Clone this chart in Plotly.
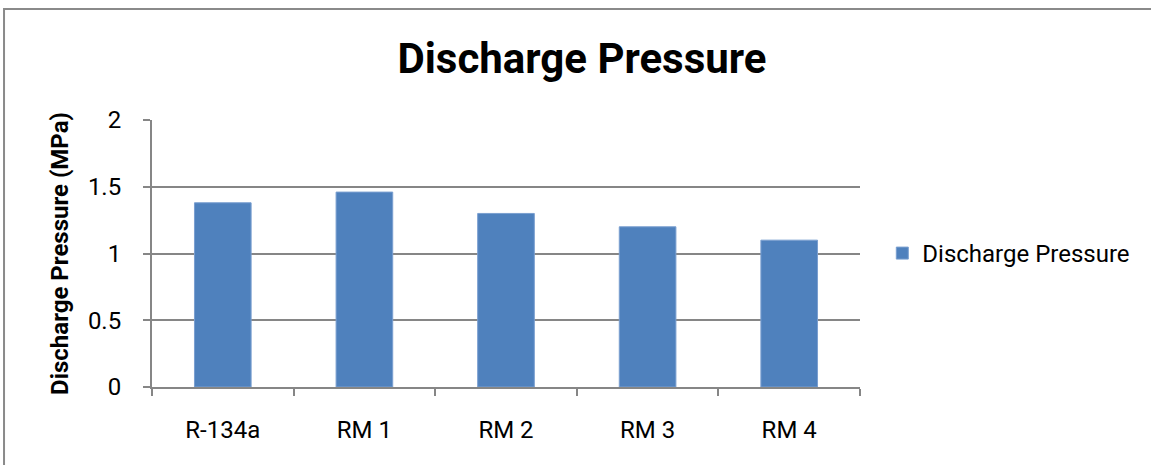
import plotly.graph_objects as go

categories = ["R-134a", "RM 1", "RM 2", "RM 3", "RM 4"]
values = [1.38, 1.46, 1.30, 1.20, 1.10]
series_name = "Discharge Pressure"
y_ticks = [0, 0.5, 1, 1.5, 2]
y_tick_labels = ["0", "0.5", "1", "1.5", "2"]

FONT = "Roboto, Liberation Sans, sans-serif"
GRID = "#868686"

fig = go.Figure()
fig.add_trace(go.Bar(
    x=categories, y=values, name=series_name,
    marker=dict(color="#4f81bd", line=dict(color="#7a9fd0", width=1)),
    showlegend=True,
))

fig.update_layout(
    width=1151, height=465,
    margin=dict(l=152, r=291, t=120, b=78),
    paper_bgcolor="white", plot_bgcolor="white",
    bargap=0.6,
    title=dict(text="<b>Discharge Pressure</b>", x=0.5056, xref="container", xanchor="center",
               y=0.8753, yref="container", yanchor="middle",
               font=dict(family=FONT, size=42, color="black")),
    font=dict(family=FONT, size=24, color="black"),
    showlegend=True,
    legend=dict(x=1.0315, xanchor="left", y=0.5, yanchor="middle",
                font=dict(family=FONT, size=24, color="black"),
                itemwidth=30, bgcolor="rgba(0,0,0,0)"),
    xaxis=dict(
        showline=True, linecolor=GRID, linewidth=2,
        ticks="outside", tickson="boundaries", ticklen=7, tickcolor=GRID, tickwidth=2,
        tickfont=dict(family=FONT, size=24, color="black"),
        ticklabelstandoff=20,
        showgrid=False,
    ),
    yaxis=dict(
        range=[0, 2], tickvals=y_ticks, ticktext=y_tick_labels,
        showline=True, linecolor=GRID, linewidth=2,
        ticks="outside", ticklen=7, tickcolor=GRID, tickwidth=2,
        showgrid=True, gridcolor=GRID, gridwidth=2,
        zeroline=False,
        tickfont=dict(family=FONT, size=24, color="black"),
        ticklabelstandoff=17,
        title=dict(text="<b>Discharge Pressure (MPa)</b>", standoff=12,
                   font=dict(family=FONT, size=24, color="black")),
    ),
    shapes=[dict(type="rect", xref="paper", yref="paper",
                 x0=-0.209, x1=1.6, y0=-0.6, y1=1.4157,
                 line=dict(color="#8a8a8a", width=2), fillcolor="rgba(0,0,0,0)", layer="below")],
)

fig.write_html("out.html", config={"displayModeBar": False},
               post_script="document.body.style.margin='0';")
